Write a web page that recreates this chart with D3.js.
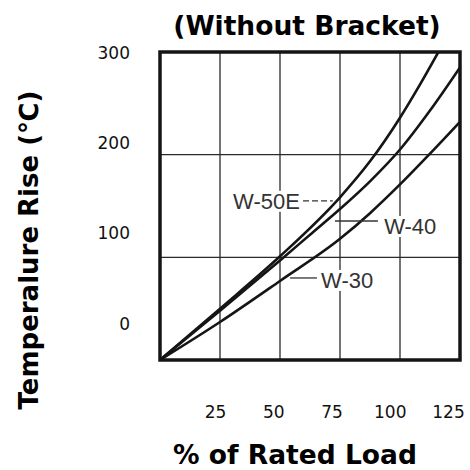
<!DOCTYPE html>
<html><head><meta charset="utf-8">
<script src="https://cdn.jsdelivr.net/npm/d3@7"></script>
<style>body{margin:0;background:#fff}svg{display:block}</style>
</head><body>
<svg id="c" width="470" height="470"></svg>
<script>
// ---- data ----
const xTicks = [25, 50, 75, 100, 125];
const yTicks = [0, 100, 200, 300];
const seriesNames = ["W-50E", "W-40", "W-30"];
const w50eLoad = [0, 25, 50, 75, 87.5, 100, 108, 116];
const w50eRise = [0, 50, 101, 158.5, 193.5, 236, 267, 300];
const w40Load  = [0, 25, 50, 62.5, 75, 87.5, 100, 112.5, 125];
const w40Rise  = [0, 48, 97, 122, 147, 174, 205, 243, 285];
const w30Load  = [0, 25, 50, 75, 87.5, 100, 112.5, 125];
const w30Rise  = [0, 37, 77, 118, 143, 171, 201, 232];
const titleText = "(Without Bracket)";
const xTitle = "% of Rated Load";
const yTitle = "Temperalure Rise (℃)";

const series = [
  {name: seriesNames[0], load: w50eLoad, rise: w50eRise},
  {name: seriesNames[1], load: w40Load,  rise: w40Rise},
  {name: seriesNames[2], load: w30Load,  rise: w30Rise}
];
// annotation placement in data units: [leaderFromX, leaderToX, leaderY, textX, textY, anchor, dashed]
const annot = [
  [59.6, 72.0, 155, 58.3, 155, "end", true],
  [72.9, 90.8, 135.4, 93.4, 130.5, "start", false],
  [54.2, 65.4, 79.9, 67.1, 77.9, "start", false]
];

const svg = d3.select("#c");
const L = 160, R = 460, T = 52, B = 360;
const x = d3.scaleLinear().domain([0, 125]).range([L, R]);
const y = d3.scaleLinear().domain([0, 300]).range([B, T]);
// tick labels sit slightly off the scanned grid in the reference
const xLab = d3.scaleLinear().domain([25, 125]).range([215, 448]);
const yLab = d3.scaleLinear().domain([0, 300]).range([323, 52]);

const ink = "#151515";
const defs = svg.append("defs");
defs.append("clipPath").attr("id", "clip").append("rect")
  .attr("x", L).attr("y", T).attr("width", R - L).attr("height", B - T);

// grid
const g = svg.append("g");
g.selectAll("line.vx").data(xTicks.slice(0, -1)).join("line")
  .attr("x1", d => x(d)).attr("x2", d => x(d)).attr("y1", T).attr("y2", B)
  .attr("stroke", "#2a2a2a").attr("stroke-width", 1.3);
g.selectAll("line.hy").data([100, 200]).join("line")
  .attr("y1", d => y(d)).attr("y2", d => y(d)).attr("x1", L).attr("x2", R)
  .attr("stroke", "#2a2a2a").attr("stroke-width", 1.3);

// curves
const line = d3.line().x(d => x(d[0])).y(d => y(d[1])).curve(d3.curveMonotoneX);
svg.append("g").attr("clip-path", "url(#clip)")
  .selectAll("path").data(series).join("path")
  .attr("d", s => line(s.load.map((v, i) => [v, s.rise[i]])))
  .attr("fill", "none").attr("stroke", ink).attr("stroke-width", 2.6);

// annotations
const ag = svg.append("g");
annot.forEach((a, i) => {
  const t = ag.append("text")
    .attr("x", x(a[3])).attr("y", y(a[4])).attr("dy", "0.36em")
    .attr("text-anchor", a[5])
    .attr("font-family", "Liberation Sans, Arial, sans-serif")
    .attr("font-size", 22).attr("fill", "#333")
    .text(series[i].name);
  const bb = t.node().getBBox();
  ag.insert("rect", "text").attr("x", bb.x - 2).attr("y", bb.y + 2)
    .attr("width", bb.width + 4).attr("height", bb.height - 4).attr("fill", "#fff");
  ag.append("line").attr("x1", x(a[0])).attr("x2", x(a[1]))
    .attr("y1", y(a[2])).attr("y2", y(a[2]))
    .attr("stroke", "#333").attr("stroke-width", 1.3)
    .attr("stroke-dasharray", a[6] ? "6,3" : null);
});

// frame
svg.append("rect").attr("x", L).attr("y", T).attr("width", R - L).attr("height", B - T)
  .attr("fill", "none").attr("stroke", ink).attr("stroke-width", 3.5);

// axes (labels only)
const fontTick = "DejaVu Sans, Verdana, sans-serif";
const ax = svg.append("g").attr("transform", "translate(0,412)")
  .call(d3.axisBottom(xLab).tickValues(xTicks).tickSize(0).tickPadding(0));
ax.select(".domain").remove();
ax.selectAll("text").attr("font-family", fontTick).attr("font-size", 17)
  .attr("fill", "#111").attr("dy", "0.36em").attr("y", 0);
const ay = svg.append("g").attr("transform", "translate(130,0)")
  .call(d3.axisLeft(yLab).tickValues(yTicks).tickSize(0).tickPadding(0));
ay.select(".domain").remove();
ay.selectAll("text").attr("font-family", fontTick).attr("font-size", 17)
  .attr("fill", "#111").attr("dy", "0.36em").attr("x", 0);

// titles
svg.append("text").attr("x", 307).attr("y", 35).attr("text-anchor", "middle")
  .attr("font-family", fontTick).attr("font-weight", "bold").attr("font-size", 26.5)
  .attr("fill", "#000").text(titleText);
svg.append("text").attr("x", 295).attr("y", 464).attr("text-anchor", "middle")
  .attr("font-family", fontTick).attr("font-weight", "bold").attr("font-size", 26.5)
  .attr("fill", "#000").text(xTitle);
svg.append("text").attr("transform", "translate(38,250) rotate(-90)")
  .attr("text-anchor", "middle")
  .attr("font-family", fontTick).attr("font-weight", "bold").attr("font-size", 26)
  .attr("fill", "#000").text(yTitle);
</script>
</body></html>
